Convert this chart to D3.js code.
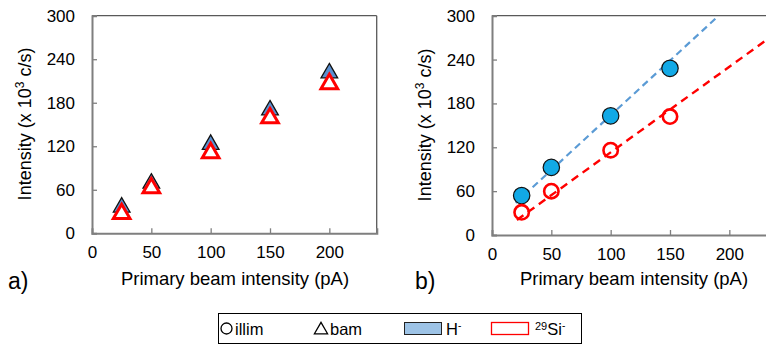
<!DOCTYPE html>
<html><head><meta charset="utf-8">
<script src="https://cdn.jsdelivr.net/npm/d3@7"></script>
<style>
html,body{margin:0;padding:0;background:#fff;}
svg{display:block;font-family:"Liberation Sans",Arial,sans-serif;}
</style></head>
<body><svg id="c" width="766" height="345"></svg>
<script>
// ---- data ----
const beamA = [25, 50, 100, 150, 200];          // pA, panel a
const bamH = [38, 71, 124.5, 172, 223];          // H- (bam, triangles)
const bamSi = [29, 64.5, 113, 161, 208];         // 29Si- (bam, triangles)
const beamB = [25, 50, 100, 150];                // pA, panel b
const illimH = [54, 92.5, 163, 228];             // H- (illim, circles)
const illimSi = [31, 60, 116, 162];              // 29Si- (illim, circles)
const trendHx = [20, 191], trendHy = [44, 300];  // dashed trend H-
const trendSix = [21, 240], trendSiy = [20.5, 277]; // dashed trend 29Si-
const xTicks = [0, 50, 100, 150, 200];
const yTicks = [0, 60, 120, 180, 240, 300];

const svg = d3.select("#c");
const blueTri = "#5b8fcf", blueCirc = "#12a9e6", red = "#ff0000", blueLine = "#5b9bd5", axisCol = "#7f7f7f";

function panel(x0, top, bottom, right, fullBox) {
  const x = d3.scaleLinear().domain([0, 240]).range([x0, x0 + 284.8]);
  const y = d3.scaleLinear().domain([0, 300]).range([bottom, top]);
  const g = svg.append("g");
  g.append("line").attr("x1", x0).attr("x2", fullBox ? right : 766).attr("y1", top).attr("y2", top).attr("stroke", "#595959").attr("stroke-width", 1.3);
  if (fullBox) g.append("line").attr("x1", right).attr("x2", right).attr("y1", top).attr("y2", bottom).attr("stroke", "#595959").attr("stroke-width", 1.3);
  const xa = g.append("g").attr("transform", `translate(0,${bottom})`)
    .call(d3.axisBottom(x).tickValues(xTicks).tickSize(-5).tickPadding(13).tickFormat(d3.format("d")));
  const ya = g.append("g").attr("transform", `translate(${x0},0)`)
    .call(d3.axisLeft(y).tickValues(yTicks).tickSize(-5).tickPadding(17).tickFormat(d3.format("d")));
  [xa, ya].forEach(a => {
    a.select(".domain").attr("stroke", axisCol).attr("stroke-width", 2);
    a.selectAll(".tick line").attr("stroke", axisCol).attr("stroke-width", 1.3);
    a.selectAll("text").attr("font-size", 17).attr("fill", "#000").attr("font-family", "Liberation Sans, Arial, sans-serif");
  });
  ya.select(".tick:first-of-type line").remove();
  xa.select(".tick:first-of-type line").remove();
  return {x, y, g};
}

const A = panel(92, 15.7, 233.3, 376.7, true);
const B = panel(492, 15.7, 235, 776.8, false);

function titles(cx, lx, letterX, label, midY) {
  svg.append("text").attr("x", cx).attr("y", 285).attr("text-anchor", "middle").attr("font-size", 18.5).text("Primary beam intensity (pA)");
  const t = svg.append("text").attr("transform", `translate(${lx},${midY}) rotate(-90)`).attr("text-anchor", "middle").attr("font-size", 18);
  t.append("tspan").text("Intensity (x 10");
  t.append("tspan").attr("font-size", 12).attr("dy", -7).text("3");
  t.append("tspan").attr("dy", 7).text(" c/s)");
  svg.append("text").attr("x", letterX).attr("y", 289).attr("font-size", 23).text(label);
}
titles(235, 31, 8, "a)", 124);
titles(634, 431, 415, "b)", 125);

const triSym = d3.symbol().type(d3.symbolTriangle).size(120);
A.g.selectAll(".th").data(beamA.map((d, i) => [d, bamH[i]])).join("path")
  .attr("d", triSym).attr("transform", d => `translate(${A.x(d[0])},${A.y(d[1]) + 1.5})`)
  .attr("fill", blueTri).attr("stroke", "#111").attr("stroke-width", 1.3);
A.g.selectAll(".ts").data(beamA.map((d, i) => [d, bamSi[i]])).join("path")
  .attr("d", triSym).attr("transform", d => `translate(${A.x(d[0])},${A.y(d[1]) + 1.5})`)
  .attr("fill", "#fff").attr("stroke", red).attr("stroke-width", 3);

svg.append("clipPath").attr("id", "clipB").append("rect").attr("x", 492).attr("y", 15.7).attr("width", 300).attr("height", 220);
const line = d3.line().x(d => B.x(d[0])).y(d => B.y(d[1]));
svg.append("path").attr("clip-path", "url(#clipB)").datum(trendHx.map((d, i) => [d, trendHy[i]]))
  .attr("d", line).attr("fill", "none").attr("stroke", blueLine).attr("stroke-width", 2.2).attr("stroke-dasharray", "7,4.5");
svg.append("path").attr("clip-path", "url(#clipB)").datum(trendSix.map((d, i) => [d, trendSiy[i]]))
  .attr("d", line).attr("fill", "none").attr("stroke", red).attr("stroke-width", 2.4).attr("stroke-dasharray", "8,5.5");
svg.selectAll(".ch").data(beamB.map((d, i) => [d, illimH[i]])).join("circle")
  .attr("cx", d => B.x(d[0])).attr("cy", d => B.y(d[1])).attr("r", 8.2)
  .attr("fill", blueCirc).attr("stroke", "#111").attr("stroke-width", 1.2);
svg.selectAll(".cs").data(beamB.map((d, i) => [d, illimSi[i]])).join("circle")
  .attr("cx", d => B.x(d[0])).attr("cy", d => B.y(d[1])).attr("r", 7.2)
  .attr("fill", "none").attr("stroke", red).attr("stroke-width", 2.6);

// legend
const L = svg.append("g");
L.append("rect").attr("x", 218.5).attr("y", 313.5).attr("width", 363).attr("height", 30).attr("fill", "#fff").attr("stroke", "#000").attr("stroke-width", 1);
L.append("circle").attr("cx", 226.5).attr("cy", 328.5).attr("r", 5.5).attr("fill", "none").attr("stroke", "#000").attr("stroke-width", 1.3);
L.append("text").attr("x", 235).attr("y", 334.5).attr("font-size", 16.5).text("illim");
L.append("path").attr("d", d3.symbol().type(d3.symbolTriangle).size(75)).attr("transform", "translate(321,330)").attr("fill", "none").attr("stroke", "#000").attr("stroke-width", 1.3);
L.append("text").attr("x", 330).attr("y", 335).attr("font-size", 16.5).text("bam");
L.append("rect").attr("x", 404.5).attr("y", 322.5).attr("width", 37).attr("height", 12).attr("fill", "#9dc3e6").attr("stroke", "#222").attr("stroke-width", 1);
const h = L.append("text").attr("x", 446).attr("y", 334.5).attr("font-size", 16.5);
h.append("tspan").text("H");
h.append("tspan").attr("font-size", 10).attr("dy", -6).text("-");
L.append("rect").attr("x", 491.5).attr("y", 322.5).attr("width", 37).attr("height", 12).attr("fill", "#fff").attr("stroke", red).attr("stroke-width", 1.3);
const s = L.append("text").attr("x", 535).attr("y", 334.5).attr("font-size", 16.5);
s.append("tspan").attr("font-size", 11).attr("dy", -5).text("29");
s.append("tspan").attr("dy", 5).text("Si");
s.append("tspan").attr("font-size", 10).attr("dy", -6).text("-");
</script></body></html>
